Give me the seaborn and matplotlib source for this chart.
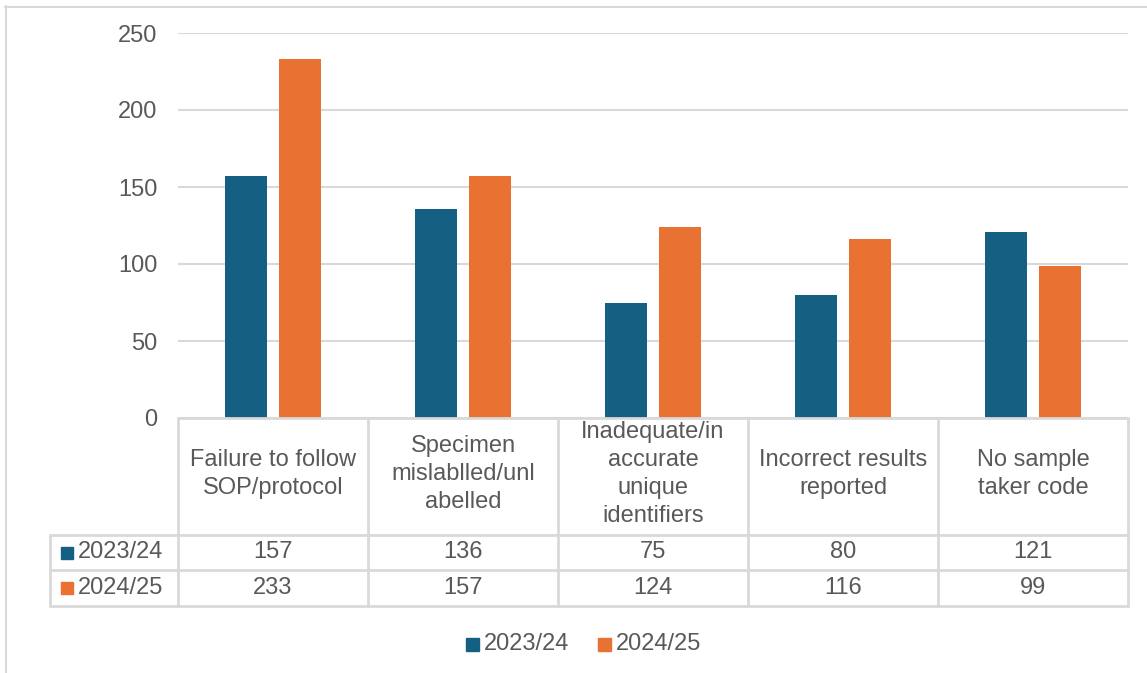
import matplotlib
matplotlib.use("Agg")
import matplotlib.pyplot as plt
from matplotlib.lines import Line2D
from matplotlib.patches import Rectangle
import seaborn as sns
import pandas as pd

# Data
categories = [
    "Failure to follow\nSOP/protocol",
    "Specimen\nmislablled/unl\nabelled",
    "Inadequate/in\naccurate\nunique\nidentifiers",
    "Incorrect results\nreported",
    "No sample\ntaker code",
]
series_names = ["2023/24", "2024/25"]
values_2023_24 = [157, 136, 75, 80, 121]
values_2024_25 = [233, 157, 124, 116, 99]
y_ticks = [0, 50, 100, 150, 200, 250]
colors = ["#156082", "#E97132"]

W, H = 1147, 673
TEXT = "#595959"
LINE = "#D9D9D9"
FS = 17

sns.set_theme(style="white")
plt.rcParams["font.family"] = ["Liberation Sans", "DejaVu Sans"]

fig = plt.figure(figsize=(W / 100, H / 100), dpi=100)


def fx(px):
    return px / W


def fy(py):
    return 1 - py / H


# Plot area
PL, PR, PT, PB = 178, 1128, 33, 418
ax = fig.add_axes([fx(PL), fy(PB), fx(PR) - fx(PL), fy(PT) - fy(PB)])

df = pd.DataFrame({
    "category": categories * 2,
    "series": [s for s in series_names for _ in categories],
    "value": values_2023_24 + values_2024_25,
})
sns.barplot(data=df, x="category", y="value", hue="series",
            order=categories, hue_order=series_names, palette=colors,
            width=0.568, gap=0.204, saturation=1, legend=False, ax=ax,
            linewidth=0, zorder=3)

ax.set_xlim(-0.5, len(categories) - 0.5)
ax.set_ylim(0, 250)
ax.set_yticks(y_ticks)
ax.set_xticks([])
ax.set_xlabel("")
ax.set_ylabel("")
ax.yaxis.grid(True, color=LINE, linewidth=1.5, zorder=0)
ax.set_axisbelow(True)
for s in ax.spines.values():
    s.set_visible(False)
ax.tick_params(axis="y", length=0, pad=15, labelsize=FS, labelcolor=TEXT)

# Overlay in pixel coordinates for the data table, legend and border
ov = fig.add_axes([0, 0, 1, 1], zorder=5)
ov.set_xlim(0, W)
ov.set_ylim(H, 0)
ov.axis("off")
ov.patch.set_alpha(0)

n = len(categories)
col_w = (PR - PL) / n
col_edges = [PL + i * col_w for i in range(n + 1)]
TL = 50
R1, R2, R3 = 535, 570, 606
tlw = 2

# Table grid
ov.add_line(Line2D([PL, PR], [PB, PB], color=LINE, lw=tlw))
for yy in (R1, R2, R3):
    ov.add_line(Line2D([TL, PR], [yy, yy], color=LINE, lw=tlw))
for xx in col_edges:
    ov.add_line(Line2D([xx, xx], [PB, R3], color=LINE, lw=tlw))
ov.add_line(Line2D([TL, TL], [R1, R3], color=LINE, lw=tlw))

# Category headers and values
for i, cat in enumerate(categories):
    cx = col_edges[i] + col_w / 2
    ov.text(cx, 474, cat, ha="center", va="center", fontsize=FS,
            color=TEXT, linespacing=1.34)
    ov.text(cx, (R1 + R2) / 2, str(values_2023_24[i]), ha="center",
            va="center", fontsize=FS, color=TEXT)
    ov.text(cx, (R2 + R3) / 2, str(values_2024_25[i]), ha="center",
            va="center", fontsize=FS, color=TEXT)

# Row labels with colour keys
for (y0, y1), name, c in zip([(R1, R2), (R2, R3)], series_names, colors):
    yc = (y0 + y1) / 2
    ov.add_patch(Rectangle((61, yc - 6), 12, 12, color=c))
    ov.text(78, yc, name, ha="left", va="center", fontsize=FS, color=TEXT)

# Legend
for x0, name, c in zip([466, 598], series_names, colors):
    ov.add_patch(Rectangle((x0, 638), 13, 13, color=c))
    ov.text(x0 + 18, 644.5, name, ha="left", va="center", fontsize=FS,
            color=TEXT)

# Chart border
ov.add_line(Line2D([5.5, 5.5], [6, H], color=LINE, lw=1.5))
ov.add_line(Line2D([5, W], [6.5, 6.5], color=LINE, lw=1.5))

fig.savefig("out.png", dpi=100)
